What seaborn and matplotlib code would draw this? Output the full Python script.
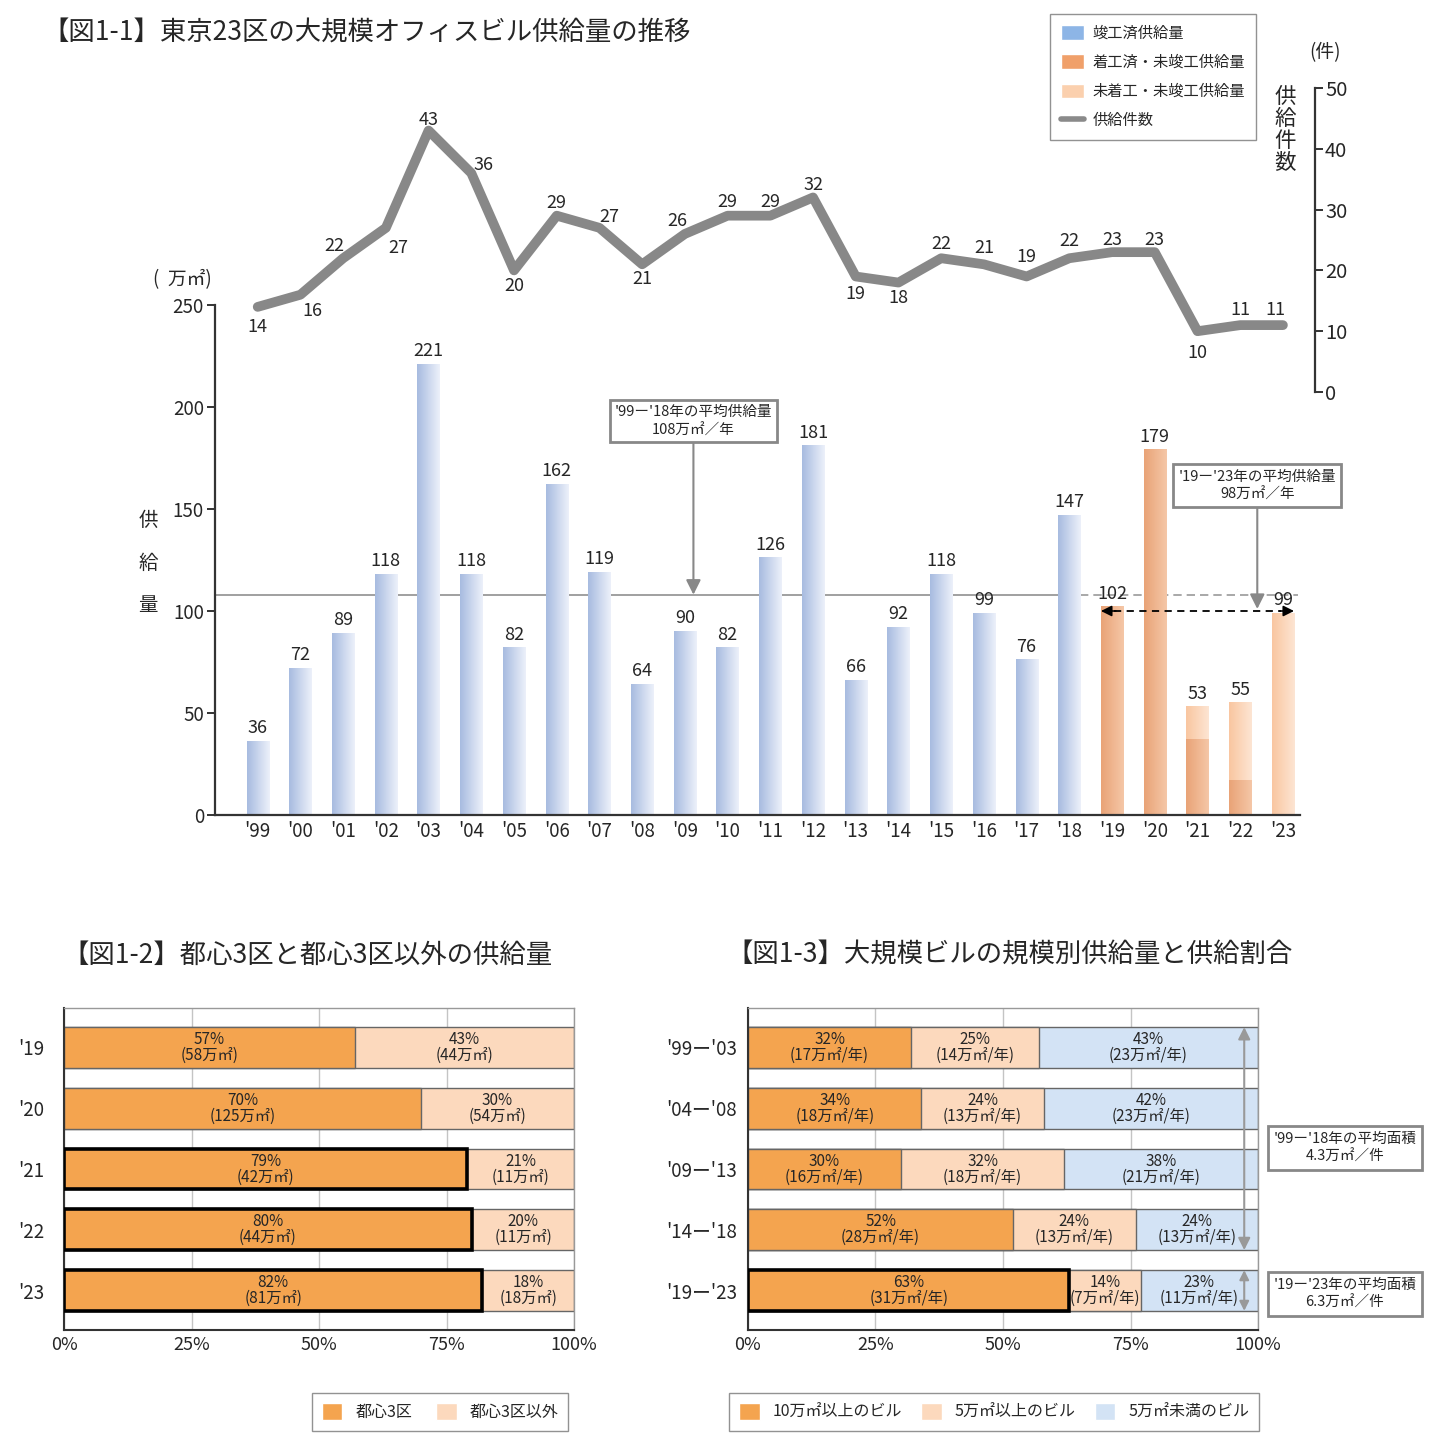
import numpy as np
import seaborn as sns
from matplotlib import pyplot as plt
from matplotlib.colors import LinearSegmentedColormap
from matplotlib.patches import Patch
from matplotlib.lines import Line2D

# ---- data: fig 1-1 ----
years = ["'99", "'00", "'01", "'02", "'03", "'04", "'05", "'06", "'07", "'08", "'09", "'10",
         "'11", "'12", "'13", "'14", "'15", "'16", "'17", "'18", "'19", "'20", "'21", "'22", "'23"]
completed = [36, 72, 89, 118, 221, 118, 82, 162, 119, 64, 90, 82, 126, 181, 66, 92, 118, 99, 76, 147,
             0, 0, 0, 0, 0]
under_construction = [0, 0, 0, 0, 0, 0, 0, 0, 0, 0, 0, 0, 0, 0, 0, 0, 0, 0, 0, 0,
                      102, 179, 37, 17, 0]
not_started = [0, 0, 0, 0, 0, 0, 0, 0, 0, 0, 0, 0, 0, 0, 0, 0, 0, 0, 0, 0,
               0, 0, 16, 38, 99]
counts = [14, 16, 22, 27, 43, 36, 20, 29, 27, 21, 26, 29, 29, 32, 19, 18, 22, 21, 19, 22, 23, 23, 10, 11, 11]
avg_99_18 = 108
avg_19_23 = 98

# label offsets for the count line (pixels)
count_dx = [0, 12, -9, 12, 0, 12, 0, 0, 10, 0, -8, 0, 0, 0, 0, 0, 0, 0, 0, 0, 0, 0, 0, 0, -8]
count_dy = [-20, -16, 12, -20, 11, 8, -16, 13, 11, -15, 13, 14, 14, 12, -18, -15, 14, 16, 19, 17, 12, 12, -22, 15, 15]

# ---- data: fig 1-2 ----
area_years = ["'19", "'20", "'21", "'22", "'23"]
core_pct = [57, 70, 79, 80, 82]
core_area = [58, 125, 42, 44, 81]
other_pct = [43, 30, 21, 20, 18]
other_area = [44, 54, 11, 11, 18]

# ---- data: fig 1-3 ----
periods = ["'99ー'03", "'04ー'08", "'09ー'13", "'14ー'18", "'19ー'23"]
large_pct = [32, 34, 30, 52, 63]
large_area = [17, 18, 16, 28, 31]
mid_pct = [25, 24, 32, 24, 14]
mid_area = [14, 13, 18, 13, 7]
small_pct = [43, 42, 38, 24, 23]
small_area = [23, 23, 21, 13, 11]

ORANGE = '#f4a44f'
PEACH = '#fcd9bd'
LBLUE = '#d3e3f5'

W, H = 1448, 1452

sns.set_style('white')
plt.rcParams['font.family'] = ['Noto Sans CJK JP', 'DejaVu Sans']


def px_axes(fig, left, top, right, bottom):
    return fig.add_axes([left / W, 1 - bottom / H, (right - left) / W, (bottom - top) / H])


def fx(x):
    return x / W


def fy(y):
    return 1 - y / H


def gradient_bars(ax, patches, c0, c1, z):
    cmap = LinearSegmentedColormap.from_list('g', [c0, c1])
    grad = np.linspace(0, 1, 64).reshape(1, -1)
    for p in patches:
        h = p.get_height()
        if h <= 0:
            continue
        x, y, w = p.get_x(), p.get_y(), p.get_width()
        ax.imshow(grad, extent=[x, x + w, y, y + h], cmap=cmap, aspect='auto',
                  zorder=z, interpolation='bicubic')
        p.set_visible(False)


fig = plt.figure(figsize=(W / 100, H / 100), dpi=100)

# ================= fig 1-1 =================
ax = px_axes(fig, 215, 305, 1300, 815)
totals = [c + u + n for c, u, n in zip(completed, under_construction, not_started)]
uc_top = [c + u for c, u in zip(completed, under_construction)]
layers = [(totals, '#f9c6a0', '#fde5d3'),
          (uc_top, '#e9a377', '#f5c7a7'),
          (completed, '#a7bbe0', '#edf1fa')]
for k, (vals, c0, c1) in enumerate(layers):
    n0 = len(ax.patches)
    sns.barplot(x=years, y=vals, ax=ax, width=0.52, color=c0, linewidth=0, saturation=1)
    gradient_bars(ax, ax.patches[n0:], c0, c1, 2 + k * 0.1)

bar_w = 0.52
ax.set_xlim(-1.0, 24.4)
ax.set_ylim(0, 250)
for i, t in enumerate(totals):
    ax.text(i, t + 2, str(t), ha='center', va='bottom', fontsize=13, zorder=5)

# average lines
i18 = years.index("'18")
i19 = years.index("'19")
i23 = years.index("'23")
ax.plot([-1.0, i18 + bar_w / 2], [avg_99_18, avg_99_18], color='#999999', lw=1.3, zorder=1)
ax.plot([i18 + bar_w / 2, i23 + bar_w / 2 + 0.1], [avg_99_18, avg_99_18], color='#999999',
        lw=1.2, ls=(0, (5, 3)), zorder=1)
ax.plot([i19 - bar_w / 2 + 0.3, i23 + bar_w / 2 - 0.3], [avg_19_23 + 2, avg_19_23 + 2],
        color='black', lw=1.3, ls=(0, (4, 3)), zorder=6)
for a, b in [(i19 - bar_w / 2 + 0.35, i19 - bar_w / 2), (i23 + bar_w / 2 - 0.35, i23 + bar_w / 2)]:
    ax.annotate('', xy=(b, avg_19_23 + 2), xytext=(a, avg_19_23 + 2),
                arrowprops=dict(arrowstyle='-|>', color='black', lw=1.2, mutation_scale=16,
                                shrinkA=0, shrinkB=0), zorder=6)

ax.annotate("'99ー'18年の平均供給量\n108万㎡／年", xy=(10.2, avg_99_18), xytext=(10.2, 193),
            ha='center', va='center', fontsize=10.5, linespacing=1.35,
            bbox=dict(boxstyle='square,pad=0.35', fc='white', ec='#888888', lw=2),
            arrowprops=dict(arrowstyle='-|>', color='#888888', lw=1.5, mutation_scale=22,
                            shrinkA=0, shrinkB=0), zorder=7, annotation_clip=False)
ax.annotate("'19ー'23年の平均供給量\n98万㎡／年", xy=(23.4, avg_19_23 + 3), xytext=(23.4, 161.5),
            ha='center', va='center', fontsize=10.5, linespacing=1.35,
            bbox=dict(boxstyle='square,pad=0.35', fc='white', ec='#888888', lw=2),
            arrowprops=dict(arrowstyle='-|>', color='#888888', lw=1.5, mutation_scale=22,
                            shrinkA=0, shrinkB=0), zorder=7, annotation_clip=False)

for s in ['top', 'right']:
    ax.spines[s].set_visible(False)
for s in ['left', 'bottom']:
    ax.spines[s].set_color('#333333')
    ax.spines[s].set_linewidth(1.6)
ax.set_yticks(range(0, 251, 50))
ax.tick_params(axis='y', direction='out', length=6, width=1.4, color='#333333', labelsize=13.5, pad=2, left=True)
ax.tick_params(axis='x', length=0, labelsize=13.5, pad=4)
ax.set_xlabel('')
ax.set_ylabel('')

# count line
ax2 = px_axes(fig, 215, 88, 1300, 392)
ax2.patch.set_visible(False)
sns.lineplot(x=np.arange(len(counts)), y=counts, ax=ax2, color='#888888', linewidth=7,
             solid_capstyle='round', solid_joinstyle='round')
ax2.set_xlim(-1.0, 24.4)
ax2.set_ylim(0, 50)
for s in ['left', 'top', 'bottom']:
    ax2.spines[s].set_visible(False)
ax2.spines['right'].set_position(('outward', 11))
ax2.spines['right'].set_color('#333333')
ax2.spines['right'].set_linewidth(1.6)
ax2.yaxis.tick_right()
ax2.set_yticks(range(0, 51, 10))
ax2.set_xticks([])
ax2.tick_params(axis='y', direction='out', length=6, width=1.4, color='#333333', labelsize=14.5, pad=1, right=True)
for i, v in enumerate(counts):
    ax2.annotate(str(v), (i, v), xytext=(count_dx[i], count_dy[i]), textcoords='offset pixels',
                 ha='center', va='center', fontsize=13, annotation_clip=False)

fig.text(fx(42), fy(33), "【図1-1】東京23区の大規模オフィスビル供給量の推移", fontsize=19, va='center')
fig.text(fx(182), fy(280), "(  万㎡)", fontsize=13.5, ha='center', va='center')
fig.text(fx(148), fy(563), "供\n給\n量", fontsize=14, ha='center', va='center', linespacing=2.35)
fig.text(fx(1325), fy(53), "(件)", fontsize=13.5, ha='center', va='center')
fig.text(fx(1285), fy(130), "供\n給\n件\n数", fontsize=15.5, ha='center', va='center', linespacing=1.0)

handles = [Patch(fc='#8db5e6'), Patch(fc='#f0a06a'), Patch(fc='#fbd0ae'),
           Line2D([], [], color='#8a8a8a', lw=4)]
fig.legend(handles, ['竣工済供給量', '着工済・未竣工供給量', '未着工・未竣工供給量', '供給件数'],
           loc='upper left', bbox_to_anchor=(fx(1050), fy(14)), fontsize=11, frameon=True,
           fancybox=False, edgecolor='#777777', borderpad=0.7, labelspacing=0.8,
           handlelength=1.5, handleheight=1.1, handletextpad=0.6, borderaxespad=0)


# ================= fig 1-2 / 1-3 =================
def share_chart(ax, cats, pcts, areas, colors, unit, bold_rows, tick_pad):
    nseg = len(pcts)
    for k in reversed(range(nseg)):
        cum = [sum(p[r] for p in pcts[:k + 1]) for r in range(len(cats))]
        sns.barplot(x=cum, y=cats, orient='y', color=colors[k], width=0.67, saturation=1,
                    edgecolor='#666666', linewidth=1, ax=ax, zorder=2)
    for r in bold_rows:
        p = ax.containers[-1].patches[r]
        p.set_edgecolor('black')
        p.set_linewidth(2.6)
        p.set_zorder(3)
    for r in range(len(cats)):
        left = 0
        for k in range(nseg):
            v = pcts[k][r]
            ax.text(left + v / 2, r, f"{v}%\n({areas[k][r]}{unit})", ha='center', va='center',
                    fontsize=11, linespacing=0.92, zorder=5)
            left += v
    ax.set_xlim(0, 100)
    ax.set_ylim(4.65, -0.65)
    ax.set_xticks([0, 25, 50, 75, 100])
    ax.set_xticklabels(['0%', '25%', '50%', '75%', '100%'])
    ax.set_axisbelow(True)
    ax.xaxis.grid(True, color='#c4c4c4', lw=1)
    ax.yaxis.grid(False)
    ax.tick_params(axis='x', length=0, labelsize=13, pad=4)
    ax.tick_params(axis='y', length=0, labelsize=13.5, pad=tick_pad)
    ax.set_xlabel('')
    ax.set_ylabel('')
    for s in ['left', 'bottom']:
        ax.spines[s].set_color('#333333')
        ax.spines[s].set_linewidth(1.5)
    for s in ['top', 'right']:
        ax.spines[s].set_color('#999999')
        ax.spines[s].set_linewidth(1)


ax3 = px_axes(fig, 64, 1008, 574, 1330)
share_chart(ax3, area_years, [core_pct, other_pct], [core_area, other_area],
            [ORANGE, PEACH], '万㎡', [2, 3, 4], 14)

ax4 = px_axes(fig, 748, 1008, 1258, 1330)
share_chart(ax4, periods, [large_pct, mid_pct, small_pct], [large_area, mid_area, small_area],
            [ORANGE, PEACH, LBLUE], '万㎡/年', [4], 8)
ax4.annotate('', xy=(97.3, -0.335), xytext=(97.3, 3.335),
             arrowprops=dict(arrowstyle='<|-|>', color='#999999', lw=1.5, mutation_scale=18,
                             shrinkA=0, shrinkB=0), zorder=6)
ax4.annotate('', xy=(97.3, 3.665), xytext=(97.3, 4.335),
             arrowprops=dict(arrowstyle='<|-|>', color='#999999', lw=1.5, mutation_scale=14,
                             shrinkA=0, shrinkB=0), zorder=6)

box = dict(boxstyle='square,pad=0.4', fc='white', ec='#888888', lw=2)
fig.text(fx(1345), fy(1148), "'99ー'18年の平均面積\n4.3万㎡／件", ha='center', va='center',
         fontsize=10.5, linespacing=1.35, bbox=box)
fig.text(fx(1345), fy(1294), "'19ー'23年の平均面積\n6.3万㎡／件", ha='center', va='center',
         fontsize=10.5, linespacing=1.35, bbox=box)

fig.text(fx(62), fy(955), "【図1-2】都心3区と都心3区以外の供給量", fontsize=19, va='center')
fig.text(fx(726), fy(955), "【図1-3】大規模ビルの規模別供給量と供給割合", fontsize=19, va='center')

fig.legend([Patch(fc=ORANGE), Patch(fc=PEACH)], ['都心3区', '都心3区以外'],
           loc='center', bbox_to_anchor=(fx(440), fy(1412)), ncol=2, fontsize=11.5,
           fancybox=False, edgecolor='#777777', handlelength=1.3, handleheight=1.3,
           columnspacing=1.5, borderpad=0.6)
fig.legend([Patch(fc=ORANGE), Patch(fc=PEACH), Patch(fc=LBLUE)],
           ['10万㎡以上のビル', '5万㎡以上のビル', '5万㎡未満のビル'],
           loc='center', bbox_to_anchor=(fx(994), fy(1412)), ncol=3, fontsize=11.5,
           fancybox=False, edgecolor='#777777', handlelength=1.3, handleheight=1.3,
           columnspacing=1.2, borderpad=0.6)

fig.savefig('out.png', dpi=100)
